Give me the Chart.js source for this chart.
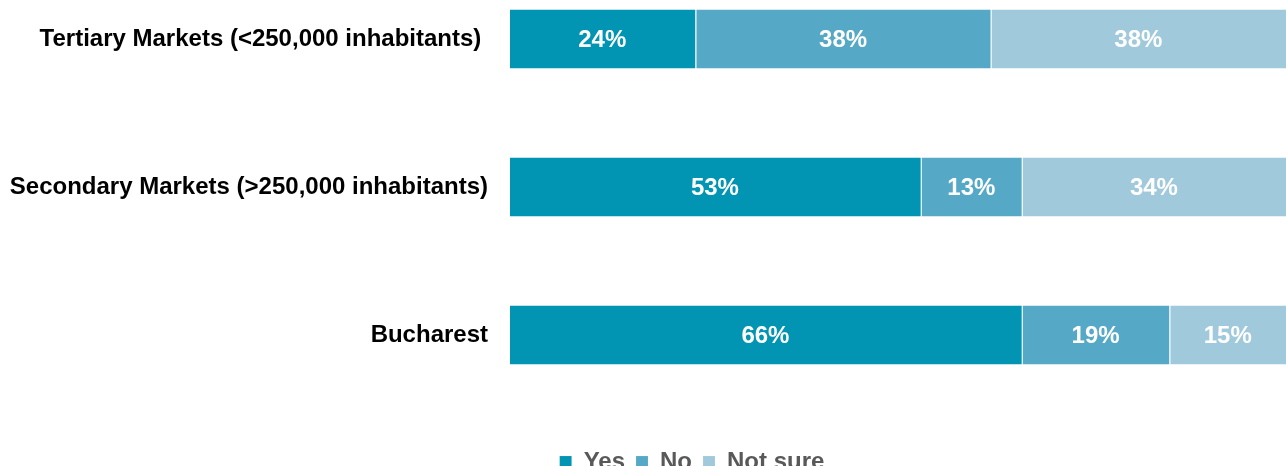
<!DOCTYPE html>
<html>
<head>
<meta charset="utf-8">
<script src="https://cdn.jsdelivr.net/npm/chart.js@4/dist/chart.umd.min.js"></script>
<style>
  html, body { margin: 0; padding: 0; background: #fff; }
  #wrap { width: 1286px; height: 466px; }
</style>
</head>
<body>
<div id="wrap"><canvas id="marketChart"></canvas></div>
<script>
var markets = ['Tertiary Markets (<250,000 inhabitants) ', 'Secondary Markets (>250,000 inhabitants)', 'Bucharest'];
var yes = [24, 53, 66];
var no = [38, 13, 19];
var notSure = [38, 34, 15];

Chart.defaults.font.family = "'Liberation Sans', Arial, sans-serif";

// writes the percentage in the middle of every segment
var segmentLabels = {
  id: 'segmentLabels',
  afterDatasetsDraw: function (chart) {
    var ctx = chart.ctx;
    ctx.save();
    ctx.fillStyle = '#fff';
    ctx.font = "bold 24px 'Liberation Sans', Arial, sans-serif";
    ctx.textAlign = 'center';
    ctx.textBaseline = 'middle';
    chart.data.datasets.forEach(function (ds, i) {
      chart.getDatasetMeta(i).data.forEach(function (bar, j) {
        var c = bar.getCenterPoint();
        ctx.fillText(ds.data[j] + '%', c.x, c.y + 1);
      });
    });
    ctx.restore();
  }
};

// legend sits a bit right of the canvas middle
var legendShift = {
  id: 'legendShift',
  afterLayout: function (chart) {
    chart.legend.left = 98;
  }
};

var ctx = document.getElementById('marketChart').getContext('2d');
var chart = new Chart(ctx, {
  type: 'bar',
  data: {
    labels: markets,
    datasets: [
      { label: 'Yes', data: yes, backgroundColor: '#0194b3' },
      { label: 'No', data: no, backgroundColor: '#56a9c6' },
      { label: 'Not sure', data: notSure, backgroundColor: '#a0c9dc' }
    ]
  },
  options: {
    indexAxis: 'y',
    responsive: true,
    maintainAspectRatio: false,
    animation: false,
    clip: false,
    layout: { padding: { top: 39, right: 0, left: 0, bottom: -18 } },
    datasets: {
      bar: {
        categoryPercentage: 0.4,
        barPercentage: 1,
        borderWidth: { left: 1 },
        borderColor: 'rgba(255,255,255,0.45)',
        borderSkipped: false
      }
    },
    scales: {
      x: {
        stacked: true,
        min: 0,
        max: 100,
        grid: { display: false },
        border: { display: false },
        ticks: { display: false },
        afterFit: function (scale) { scale.height = 104; }
      },
      y: {
        stacked: true,
        offset: false,
        grid: { display: false, drawTicks: false },
        border: { display: false },
        ticks: {
          padding: 21,
          color: '#000',
          font: { size: 24, weight: 'bold' }
        },
        afterFit: function (scale) { scale.width = 509; }
      }
    },
    plugins: {
      tooltip: { enabled: false },
      legend: {
        position: 'bottom',
        labels: {
          boxWidth: 12,
          boxHeight: 12,
          padding: 11,
          color: '#595959',
          font: { size: 24, weight: 'bold' }
        }
      }
    }
  },
  plugins: [segmentLabels, legendShift]
});
</script>
</body>
</html>
